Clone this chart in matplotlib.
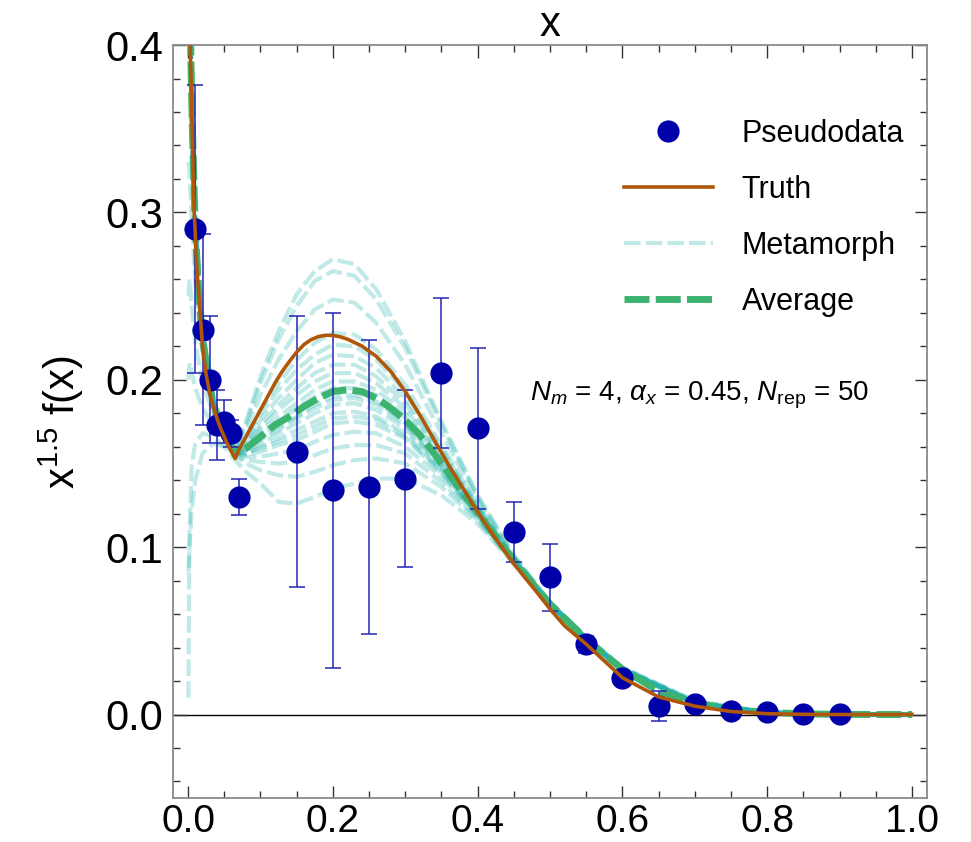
import matplotlib
matplotlib.use('Agg')
import matplotlib.pyplot as plt
import numpy as np
from matplotlib.ticker import MultipleLocator, FormatStrFormatter

plt.rcParams['font.family'] = ['Liberation Sans', 'DejaVu Sans']
plt.rcParams['mathtext.fontset'] = 'custom'
plt.rcParams['mathtext.rm'] = 'Liberation Sans'
plt.rcParams['mathtext.it'] = 'Liberation Sans:italic'

# pseudodata
data_x = [0.01, 0.02, 0.03, 0.04, 0.05, 0.06, 0.07, 0.15, 0.2, 0.25, 0.3, 0.35, 0.4,
          0.45, 0.5, 0.55, 0.6, 0.65, 0.7, 0.75, 0.8, 0.85, 0.9]
data_y = [0.29, 0.23, 0.20, 0.173, 0.175, 0.168, 0.130, 0.157, 0.134, 0.136, 0.141, 0.204, 0.171,
          0.109, 0.082, 0.042, 0.022, 0.005, 0.006, 0.0024, 0.0014, 0.0002, 0.0001]
data_err = [0.086, 0.057, 0.038, 0.021, 0.013, 0.008, 0.011, 0.081, 0.106, 0.088, 0.053, 0.045, 0.048,
            0.018, 0.020, 0.005, 0.004, 0.009, 0.003, 0.002, 0.001, 0.0005, 0.0003]

# truth curve
truth_x = [0.002, 0.003, 0.005, 0.008, 0.012, 0.016, 0.02, 0.025, 0.03, 0.035, 0.04, 0.045, 0.05,
           0.055, 0.06, 0.065, 0.07, 0.08, 0.09, 0.1, 0.11, 0.12, 0.13, 0.14, 0.15, 0.16, 0.17,
           0.18, 0.19, 0.2, 0.21, 0.22, 0.24, 0.26, 0.28, 0.3, 0.32, 0.34, 0.36, 0.38, 0.4, 0.42, 0.45,
           0.48, 0.5, 0.52, 0.55, 0.6, 0.65, 0.7, 0.75, 0.8, 0.85, 0.9, 0.95, 1.0]
truth_y = [0.46, 0.40, 0.363, 0.305, 0.268, 0.244, 0.220, 0.203, 0.192, 0.184, 0.177, 0.171, 0.166,
           0.161, 0.157, 0.153, 0.158, 0.166, 0.174, 0.182, 0.190, 0.198, 0.205, 0.211, 0.2165, 0.2210,
           0.2240, 0.2258, 0.2266, 0.2265, 0.2257, 0.2243, 0.2202, 0.2140, 0.205, 0.193, 0.179, 0.164,
           0.149, 0.135, 0.121, 0.108, 0.090, 0.074, 0.063, 0.053, 0.042, 0.022, 0.0105, 0.005, 0.0018,
           0.0005, 0.0001, 0.0, 0.0, 0.0]

# average of replicas
avg_x = [0.002, 0.004, 0.006, 0.01, 0.015, 0.02, 0.03, 0.04, 0.05, 0.06, 0.07, 0.08, 0.1, 0.12,
         0.14, 0.16, 0.18, 0.2, 0.22, 0.24, 0.26, 0.28, 0.3, 0.32, 0.34, 0.36, 0.38, 0.4, 0.42,
         0.45, 0.48, 0.5, 0.55, 0.6, 0.65, 0.7, 0.75, 0.8, 0.85, 0.9, 0.95, 1.0]
avg_y = [0.46, 0.39, 0.35, 0.29, 0.25, 0.225, 0.195, 0.178, 0.167, 0.160, 0.157, 0.159, 0.166,
         0.173, 0.178, 0.184, 0.189, 0.193, 0.194, 0.193, 0.189, 0.183, 0.176, 0.167, 0.156,
         0.144, 0.132, 0.121, 0.109, 0.092, 0.076, 0.066, 0.045, 0.027, 0.014, 0.007, 0.003,
         0.0012, 0.0004, 0.0001, 0.0, 0.0]

# metamorph replicas (subset)
meta_x = [0.0005, 0.002, 0.005, 0.01, 0.02, 0.035, 0.05,
          0.065, 0.08, 0.1, 0.125, 0.15, 0.175, 0.2, 0.23, 0.26, 0.3, 0.35, 0.4, 0.45, 0.5,
          0.55, 0.6, 0.7, 0.8, 0.9, 1.0]
meta_y = [
    [0.63, 0.46, 0.365, 0.292, 0.226, 0.188, 0.169,
     0.161, 0.175, 0.202, 0.229, 0.251, 0.265, 0.272, 0.269, 0.254, 0.223, 0.175, 0.131, 0.095, 0.067,
     0.046, 0.028, 0.007, 0.0012, 0.0001, 0.0],
    [0.60, 0.44, 0.355, 0.286, 0.222, 0.186, 0.168,
     0.161, 0.173, 0.198, 0.224, 0.244, 0.259, 0.265, 0.262, 0.248, 0.219, 0.173, 0.130, 0.095, 0.067,
     0.046, 0.028, 0.008, 0.0014, 0.0001, 0.0],
    [0.66, 0.47, 0.37, 0.298, 0.23, 0.19, 0.17,
     0.160, 0.170, 0.191, 0.212, 0.229, 0.242, 0.248, 0.246, 0.234, 0.209, 0.168, 0.128, 0.094, 0.067,
     0.045, 0.027, 0.007, 0.0012, 0.0001, 0.0],
    [0.61, 0.45, 0.36, 0.29, 0.225, 0.187, 0.168,
     0.159, 0.166, 0.182, 0.198, 0.212, 0.222, 0.228, 0.227, 0.218, 0.197, 0.161, 0.125, 0.093, 0.066,
     0.045, 0.027, 0.007, 0.0012, 0.0001, 0.0],
    [0.58, 0.43, 0.35, 0.283, 0.22, 0.184, 0.167,
     0.158, 0.165, 0.179, 0.194, 0.206, 0.215, 0.221, 0.220, 0.212, 0.193, 0.159, 0.124, 0.093, 0.066,
     0.044, 0.026, 0.007, 0.0011, 0.0001, 0.0],
    [0.20, 0.21, 0.205, 0.195, 0.183, 0.173, 0.165,
     0.158, 0.163, 0.176, 0.189, 0.200, 0.210, 0.215, 0.214, 0.207, 0.189, 0.157, 0.124, 0.093, 0.066,
     0.045, 0.027, 0.007, 0.0012, 0.0001, 0.0],
    [0.64, 0.46, 0.362, 0.291, 0.224, 0.186, 0.168,
     0.158, 0.162, 0.173, 0.185, 0.195, 0.204, 0.209, 0.209, 0.202, 0.186, 0.155, 0.123, 0.093, 0.066,
     0.046, 0.028, 0.008, 0.0013, 0.0001, 0.0],
    [0.62, 0.45, 0.36, 0.29, 0.225, 0.187, 0.168,
     0.158, 0.161, 0.171, 0.182, 0.191, 0.199, 0.204, 0.204, 0.198, 0.183, 0.154, 0.122, 0.092, 0.066,
     0.045, 0.027, 0.007, 0.0012, 0.0001, 0.0],
    [0.25, 0.26, 0.245, 0.222, 0.198, 0.18, 0.167,
     0.157, 0.160, 0.169, 0.178, 0.186, 0.194, 0.199, 0.199, 0.194, 0.180, 0.152, 0.122, 0.092, 0.066,
     0.045, 0.027, 0.007, 0.0012, 0.0001, 0.0],
    [0.59, 0.44, 0.352, 0.285, 0.221, 0.185, 0.167,
     0.157, 0.159, 0.167, 0.175, 0.183, 0.190, 0.195, 0.195, 0.191, 0.177, 0.151, 0.121, 0.092, 0.066,
     0.044, 0.027, 0.007, 0.0012, 0.0001, 0.0],
    [0.65, 0.47, 0.368, 0.295, 0.228, 0.189, 0.169,
     0.157, 0.158, 0.165, 0.172, 0.178, 0.185, 0.190, 0.191, 0.187, 0.174, 0.149, 0.121, 0.092, 0.066,
     0.045, 0.027, 0.007, 0.0012, 0.0001, 0.0],
    [0.61, 0.45, 0.358, 0.288, 0.223, 0.186, 0.168,
     0.157, 0.158, 0.164, 0.170, 0.177, 0.183, 0.188, 0.189, 0.185, 0.173, 0.148, 0.120, 0.092, 0.066,
     0.045, 0.027, 0.007, 0.0012, 0.0001, 0.0],
    [0.085, 0.10, 0.122, 0.14, 0.156, 0.162, 0.16,
     0.156, 0.157, 0.162, 0.168, 0.174, 0.180, 0.185, 0.186, 0.182, 0.171, 0.147, 0.120, 0.092, 0.066,
     0.045, 0.027, 0.007, 0.0012, 0.0001, 0.0],
    [0.63, 0.46, 0.363, 0.291, 0.225, 0.187, 0.168,
     0.156, 0.156, 0.160, 0.165, 0.170, 0.175, 0.180, 0.181, 0.178, 0.168, 0.146, 0.119, 0.091, 0.066,
     0.046, 0.028, 0.008, 0.0013, 0.0001, 0.0],
    [0.60, 0.44, 0.355, 0.286, 0.222, 0.185, 0.167,
     0.156, 0.156, 0.159, 0.163, 0.167, 0.172, 0.177, 0.178, 0.176, 0.166, 0.145, 0.119, 0.091, 0.066,
     0.045, 0.027, 0.007, 0.0012, 0.0001, 0.0],
    [0.62, 0.45, 0.36, 0.29, 0.225, 0.187, 0.168,
     0.156, 0.155, 0.157, 0.161, 0.164, 0.169, 0.174, 0.175, 0.173, 0.165, 0.144, 0.119, 0.091, 0.066,
     0.045, 0.027, 0.007, 0.0012, 0.0001, 0.0],
    [0.33, 0.325, 0.295, 0.258, 0.215, 0.185, 0.166,
     0.156, 0.154, 0.154, 0.156, 0.158, 0.163, 0.167, 0.169, 0.168, 0.160, 0.142, 0.118, 0.091, 0.066,
     0.044, 0.026, 0.007, 0.0011, 0.0001, 0.0],
    [0.64, 0.46, 0.365, 0.292, 0.226, 0.188, 0.168,
     0.155, 0.152, 0.151, 0.150, 0.151, 0.155, 0.159, 0.161, 0.161, 0.156, 0.139, 0.117, 0.091, 0.066,
     0.045, 0.027, 0.007, 0.0012, 0.0001, 0.0],
    [0.61, 0.45, 0.358, 0.288, 0.223, 0.186, 0.167,
     0.155, 0.150, 0.146, 0.143, 0.142, 0.145, 0.149, 0.152, 0.153, 0.150, 0.136, 0.116, 0.090, 0.066,
     0.045, 0.027, 0.007, 0.0012, 0.0001, 0.0],
    [0.01, 0.11, 0.148, 0.162, 0.168, 0.166, 0.16,
     0.152, 0.145, 0.138, 0.127, 0.126, 0.130, 0.135, 0.138, 0.141, 0.141, 0.131, 0.114, 0.090, 0.065,
     0.044, 0.026, 0.007, 0.0011, 0.0001, 0.0],
]

label_text = r'$N_m$ = 4, $\alpha_x$ = 0.45, $N_{\rm rep}$ = 50'

fig = plt.figure(figsize=(9.71, 8.42), dpi=100)
ax = fig.add_axes([0.178, 0.052, 0.777, 0.8945])

meta_color = '#20B2AA'
for i, ys in enumerate(meta_y):
    ax.plot(meta_x, ys, color=meta_color, alpha=0.28, lw=3.0, dashes=(4.0, 1.2),
            label='Metamorph' if i == 0 else None, zorder=1)

ax.plot(avg_x, avg_y, color='#3CB371', lw=5, dashes=(3.6, 0.9), label='Average', zorder=2)

ax.errorbar(data_x, data_y, yerr=data_err, fmt='none', ecolor='#2626B4', elinewidth=1.1,
            capsize=6, capthick=1.1, zorder=3)
ax.plot(data_x, data_y, 'o', color='#0000A8', ms=16, mec='none', label='Pseudodata', zorder=4)

ax.plot(truth_x, truth_y, color='#B0570A', lw=2.6, label='Truth', zorder=5)

ax.axhline(0, color='black', lw=1, zorder=0)

ax.set_xlim(-0.021, 1.021)
ax.set_ylim(-0.05, 0.4)
ax.xaxis.set_major_locator(MultipleLocator(0.2))
ax.xaxis.set_minor_locator(MultipleLocator(0.05))
ax.yaxis.set_major_locator(MultipleLocator(0.1))
ax.yaxis.set_minor_locator(MultipleLocator(0.02))
ax.xaxis.set_major_formatter(FormatStrFormatter('%.1f'))
ax.yaxis.set_major_formatter(FormatStrFormatter('%.1f'))
ax.tick_params(which='both', direction='in', top=True, right=True, color='#333333', width=1)
ax.tick_params(which='major', length=9)
ax.tick_params(which='minor', length=5)
ax.tick_params(axis='y', which='major', labelsize=30, pad=7)
ax.tick_params(axis='x', which='major', labelsize=28, pad=4)
for sp in ax.spines.values():
    sp.set_color('#8a8a8a')
    sp.set_linewidth(1.3)

ax.set_title('x', fontsize=30, pad=5)
ax.set_ylabel(r'x$^{1.5}$ f(x)', fontsize=30, labelpad=14)

ax.text(0.472, 0.1907, label_text, fontsize=20, ha='left', va='center')

handles, labels = ax.get_legend_handles_labels()
order = [labels.index(n) for n in ['Pseudodata', 'Truth', 'Metamorph', 'Average']]
ax.legend([handles[i] for i in order], [labels[i] for i in order], loc='upper left',
          bbox_to_anchor=(0.582, 0.918), frameon=False, fontsize=22, handlelength=2.9,
          handletextpad=0.95, labelspacing=0.85, borderaxespad=0)

fig.savefig('out.png', dpi=100)
